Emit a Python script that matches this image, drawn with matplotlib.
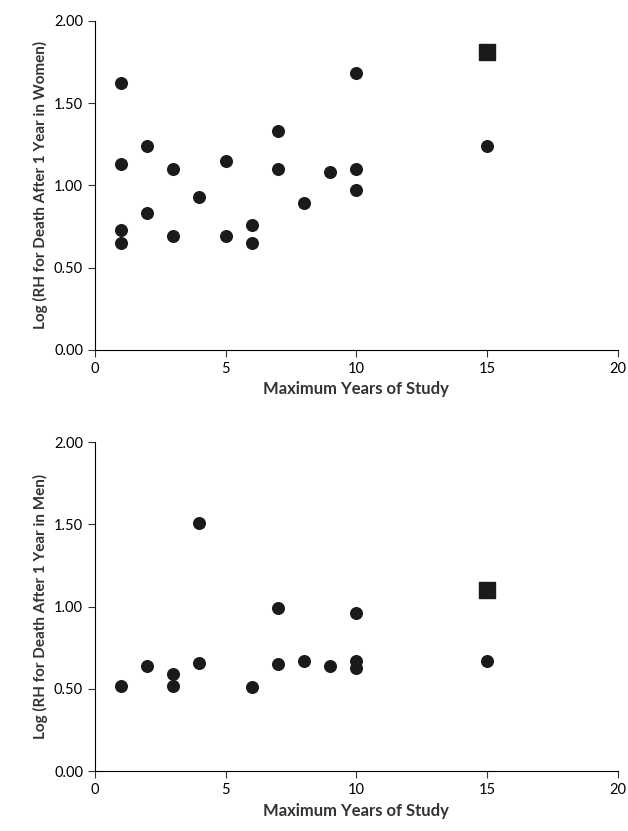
import matplotlib
matplotlib.use("Agg")
import matplotlib.pyplot as plt

plt.rcParams['font.family'] = ['Lato', 'DejaVu Sans']

women_x = [1, 1, 1, 1, 2, 2, 3, 3, 4, 5, 5, 6, 6, 7, 7, 8, 9, 10, 10, 10, 15]
women_y = [1.62, 1.13, 0.73, 0.65, 1.24, 0.83, 1.10, 0.69, 0.93, 1.15, 0.69,
           0.76, 0.65, 1.33, 1.10, 0.89, 1.08, 1.68, 1.10, 0.97, 1.24]
women_sq = (15, 1.81)

men_x = [1, 2, 3, 3, 4, 4, 6, 7, 7, 8, 9, 10, 10, 10, 15]
men_y = [0.52, 0.64, 0.59, 0.52, 1.51, 0.66, 0.51, 0.99, 0.65, 0.67, 0.64,
         0.96, 0.67, 0.63, 0.67]
men_sq = (15, 1.10)

fig = plt.figure(figsize=(6.28, 8.31), dpi=100)
ax1 = fig.add_axes([0.151, 0.579, 0.833, 0.396])
ax2 = fig.add_axes([0.151, 0.072, 0.833, 0.396])

panels = [(ax1, women_x, women_y, women_sq, "Log (RH for Death After 1 Year in Women)"),
          (ax2, men_x, men_y, men_sq, "Log (RH for Death After 1 Year in Men)")]

for ax, xs, ys, sq, ylab in panels:
    ax.scatter(xs, ys, s=70, color="#1a1a1a", marker="o", zorder=3, clip_on=False)
    ax.scatter([sq[0]], [sq[1]], s=120, color="#1a1a1a", marker="s", zorder=3, clip_on=False)
    ax.set_xlim(0, 20)
    ax.set_ylim(0, 2)
    ax.set_xticks([0, 5, 10, 15, 20])
    ax.set_yticks([0, 0.5, 1.0, 1.5, 2.0])
    ax.set_yticklabels(["0.00", "0.50", "1.00", "1.50", "2.00"])
    ax.spines['top'].set_visible(False)
    ax.spines['right'].set_visible(False)
    ax.tick_params(labelsize=10.5, color="#333333", length=5)
    ax.set_xlabel("Maximum Years of Study", fontsize=12, fontweight="bold", color="#333333")
    ax.set_ylabel(ylab, fontsize=11, fontweight="bold", color="#333333")

fig.savefig("out.png", dpi=100)
